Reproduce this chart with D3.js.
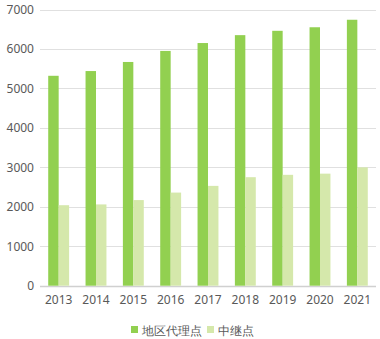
<!DOCTYPE html>
<html><head><meta charset="utf-8">
<script src="https://cdn.jsdelivr.net/npm/d3@7"></script>
<style>body{margin:0;background:#fff}svg{display:block}</style>
</head><body><svg id="c" width="380" height="339"></svg>
<script>
const years = ["2013","2014","2015","2016","2017","2018","2019","2020","2021"];
const agents = [5320,5440,5670,5950,6150,6350,6460,6550,6740];
const relays = [2040,2060,2170,2360,2530,2750,2810,2840,3000];
const seriesNames = ["地区代理点","中继点"];
const colors = ["#92d050","#d5e8ab"];
const yTicks = [0,1000,2000,3000,4000,5000,6000,7000];

const svg = d3.select("#c");
const font = "'Noto Sans', 'Open Sans', sans-serif";
const x = d3.scaleBand().domain(years).range([40,376]).paddingInner(0.44).paddingOuter(0.22);
const y = d3.scaleLinear().domain([0,7000]).range([285.7,9.5]);
const xs = d3.scaleBand().domain([0,1]).range([0,x.bandwidth()]);

const g = svg.append("g");
g.selectAll("line.grid").data(yTicks).enter().append("line")
  .attr("x1",40).attr("x2",376)
  .attr("y1",d=>Math.round(y(d))+0.5).attr("y2",d=>Math.round(y(d))+0.5)
  .attr("stroke",d=>d===0?"#d0d0d0":"#e0e0e0").attr("stroke-width",d=>d===0?1.5:1);

const yAxis = svg.append("g").attr("transform","translate(34,0)")
  .call(d3.axisLeft(y).tickValues(yTicks).tickSize(0).tickPadding(0).tickFormat(d3.format("d")));
yAxis.select(".domain").remove();
yAxis.selectAll("text").attr("fill","#595959").style("font-family",font).style("font-size","12px");

const xAxis = svg.append("g").attr("transform","translate(0,292)")
  .call(d3.axisBottom(x).tickSize(0).tickPadding(3));
xAxis.select(".domain").remove();
xAxis.selectAll("text").attr("fill","#595959").style("font-family",font).style("font-size","12px");

const data = years.map((yr,i)=>({yr, v:[agents[i],relays[i]]}));
const grp = svg.selectAll("g.bar").data(data).enter().append("g")
  .attr("transform",d=>`translate(${x(d.yr)},0)`);
grp.selectAll("rect").data(d=>d.v).enter().append("rect")
  .attr("x",(d,i)=>xs(i)).attr("width",xs.bandwidth())
  .attr("y",d=>y(d)).attr("height",d=>y(0)-y(d))
  .attr("fill",(d,i)=>colors[i]);

const leg = svg.append("g").attr("transform","translate(131,333)");
const items = [{n:seriesNames[0],x:0},{n:seriesNames[1],x:76}];
items.forEach((it,i)=>{
  leg.append("rect").attr("x",it.x).attr("y",-7).attr("width",7).attr("height",7).attr("fill",colors[i]);
  leg.append("text").attr("x",it.x+11).attr("y",2)
    .attr("fill","#595959").style("font-family",font).style("font-size","12px").text(it.n);
});
</script></body></html>
